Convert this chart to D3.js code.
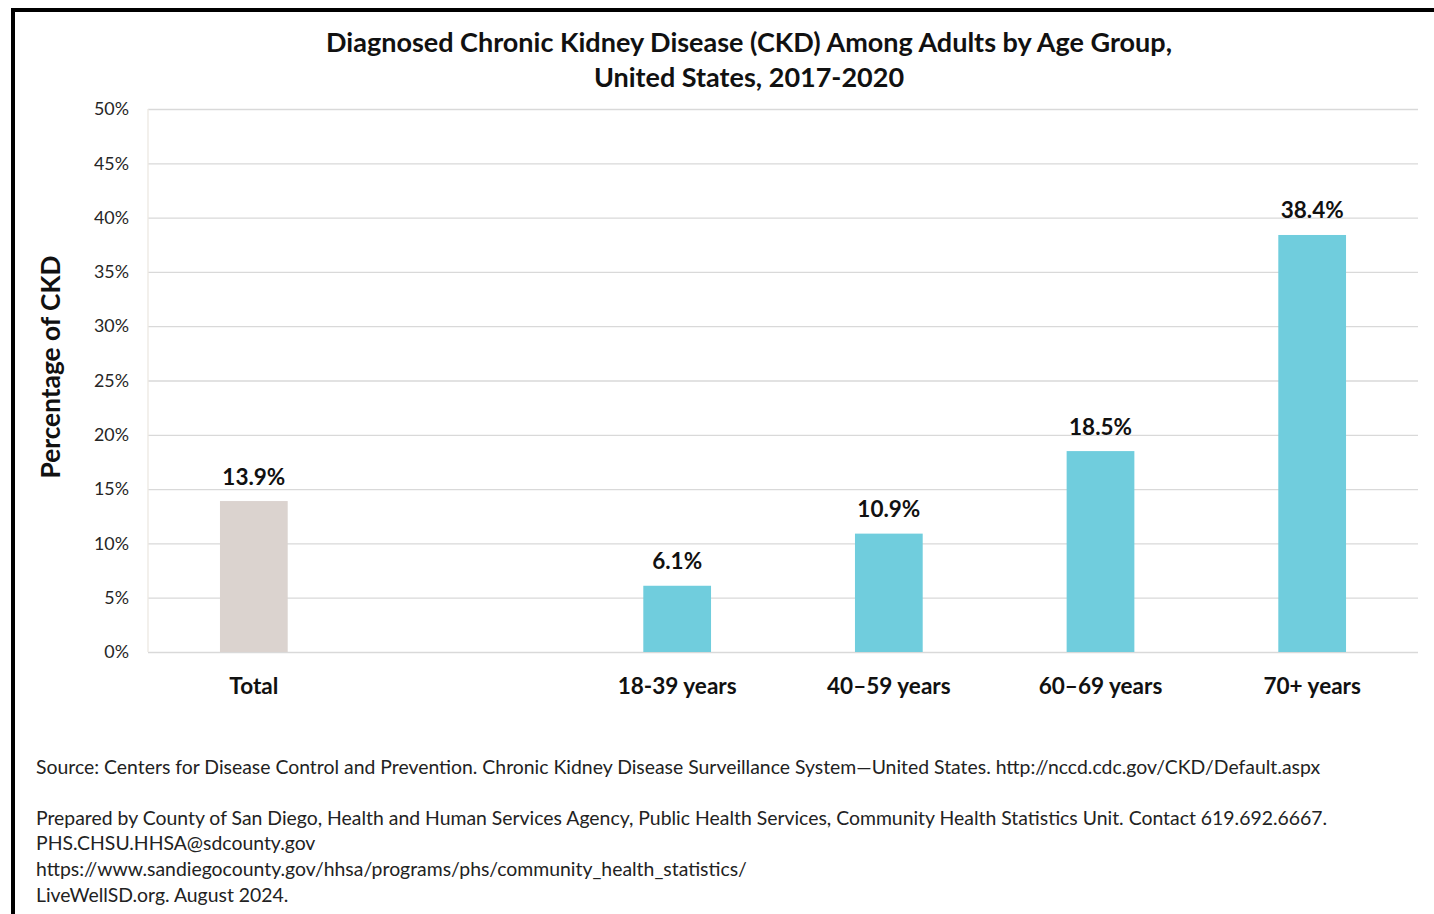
<!DOCTYPE html>
<html><head><meta charset="utf-8">
<script src="https://cdn.jsdelivr.net/npm/d3@7"></script>
<style>html,body{margin:0;padding:0;background:#fff;}svg{display:block;}</style>
</head><body>
<script>
const categories = ["Total", "", "18-39 years", "40–59 years", "60–69 years", "70+ years"];
const values = [13.9, null, 6.1, 10.9, 18.5, 38.4];
const valueLabels = ["13.9%", "", "6.1%", "10.9%", "18.5%", "38.4%"];
const yTicks = [0, 5, 10, 15, 20, 25, 30, 35, 40, 45, 50];
const titleLines = ["Diagnosed Chronic Kidney Disease (CKD) Among Adults by Age Group,", "United States, 2017-2020"];
const yTitle = "Percentage of CKD";
const footLines = [
  "Source: Centers for Disease Control and Prevention. Chronic Kidney Disease Surveillance System\u2014United States. http://nccd.cdc.gov/CKD/Default.aspx",
  "",
  "Prepared by County of San Diego, Health and Human Services Agency, Public Health Services, Community Health Statistics Unit. Contact 619.692.6667.",
  "PHS.CHSU.HHSA@sdcounty.gov",
  "https://www.sandiegocounty.gov/hhsa/programs/phs/community_health_statistics/",
  "LiveWellSD.org. August 2024."
];

const W = 1434, H = 914;
const FONT = "Lato, 'Open Sans', sans-serif";
const svg = d3.select("body").append("svg").attr("width", W).attr("height", H);
svg.append("rect").attr("width", W).attr("height", H).attr("fill", "#fff");

// frame (top and left)
svg.append("line").attr("x1", 13).attr("x2", W).attr("y1", 10).attr("y2", 10).attr("stroke", "#000").attr("stroke-width", 4);
svg.append("line").attr("x1", 13).attr("x2", 13).attr("y1", 8).attr("y2", H).attr("stroke", "#000").attr("stroke-width", 4);

// fit font size helper
function fitSize(text, weight, target, base) {
  const t = svg.append("text").attr("font-family", FONT).attr("font-weight", weight).attr("font-size", base).text(text);
  const w = t.node().getComputedTextLength();
  t.remove();
  return base * target / w;
}

const m = {left: 148, right: 1418, top: 109, bottom: 652};
const x = d3.scaleBand().domain(categories.map((c, i) => i)).range([m.left, m.right]).paddingInner(0.68).paddingOuter(0.34);
const y = d3.scaleLinear().domain([0, 50]).range([m.bottom, m.top]);

// gridlines
const gridAxis = d3.axisLeft(y).tickValues(yTicks).tickSize(-(m.right - m.left)).tickFormat("");
const gg = svg.append("g").attr("transform", `translate(${m.left},0)`).call(gridAxis);
gg.select(".domain").remove();
gg.selectAll(".tick line").attr("stroke", "#d9d9d9").attr("stroke-width", 1.3);

// left axis line
svg.append("line").attr("x1", m.left).attr("x2", m.left).attr("y1", m.top).attr("y2", m.bottom).attr("stroke", "#ece8e2").attr("stroke-width", 1.3);

// tick labels
const tickSize = fitSize("50%", 400, 35, 18);
const ya = d3.axisLeft(y).tickValues(yTicks).tickSize(0).tickPadding(19).tickFormat(d => d + "%");
const yg = svg.append("g").attr("transform", `translate(${m.left},0)`).call(ya);
yg.select(".domain").remove();
yg.selectAll(".tick text").attr("font-family", FONT).attr("font-size", tickSize).attr("fill", "#262626");

// bars
const data = categories.map((c, i) => ({i, c, v: values[i], lab: valueLabels[i]})).filter(d => d.v != null);
svg.selectAll("rect.bar").data(data).join("rect").attr("class", "bar")
  .attr("x", d => x(d.i)).attr("width", x.bandwidth())
  .attr("y", d => y(d.v)).attr("height", d => y(0) - y(d.v))
  .attr("fill", d => d.i === 0 ? "#dbd3cf" : "#70cddd");

// value labels
const valSize = fitSize("38.4%", 700, 63, 22);
svg.selectAll("text.val").data(data).join("text").attr("class", "val")
  .attr("x", d => x(d.i) + x.bandwidth() / 2).attr("y", d => y(d.v) - 25)
  .attr("text-anchor", "middle").attr("dominant-baseline", "central")
  .attr("font-family", FONT).attr("font-weight", 700).attr("font-size", valSize).attr("fill", "#111")
  .text(d => d.lab);

// category labels
const catSize = fitSize("18-39 years", 700, 119, 22);
const xa = d3.axisBottom(x).tickSize(0).tickPadding(0).tickFormat(i => categories[i]);
const xg = svg.append("g").attr("transform", `translate(0,${m.bottom})`).call(xa);
xg.select(".domain").remove();
xg.selectAll(".tick text").attr("font-family", FONT).attr("font-weight", 700).attr("font-size", catSize).attr("fill", "#111")
  .attr("dy", null).attr("y", 33).attr("dominant-baseline", "central");

// title
const titleSize = fitSize(titleLines[0], 700, 846, 26);
svg.selectAll("text.title").data(titleLines).join("text").attr("class", "title")
  .attr("x", 749).attr("y", (d, i) => 41 + i * 35.5)
  .attr("text-anchor", "middle").attr("dominant-baseline", "central")
  .attr("font-family", FONT).attr("font-weight", 700).attr("font-size", titleSize).attr("fill", "#111")
  .text(d => d);

// y title
const ytSize = fitSize(yTitle, 700, 223, 24);
svg.append("text").attr("transform", "translate(50,367) rotate(-90)")
  .attr("text-anchor", "middle").attr("dominant-baseline", "central")
  .attr("font-family", FONT).attr("font-weight", 700).attr("font-size", ytSize).attr("fill", "#111")
  .text(yTitle);

// footer
const footSize = fitSize(footLines[0], 400, 1285, 18);
const footY = [766, 791.5, 817, 842, 868, 894];
svg.selectAll("text.foot").data(footLines).join("text").attr("class", "foot")
  .attr("x", 36).attr("y", (d, i) => footY[i])
  .attr("dominant-baseline", "central")
  .attr("font-family", FONT).attr("font-size", footSize).attr("fill", "#222")
  .text(d => d);
</script>
</body></html>
